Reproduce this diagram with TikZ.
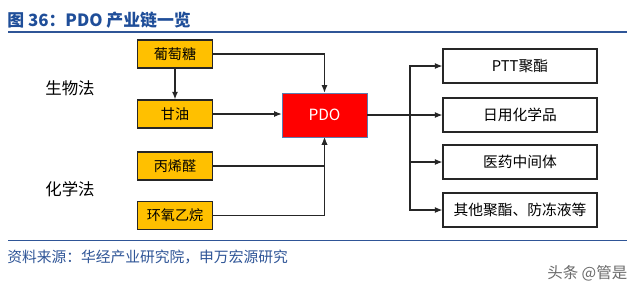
\documentclass[tikz,border=0pt]{standalone}
\usepackage{fontspec}
\setmainfont{Noto Sans CJK SC}
\usetikzlibrary{arrows.meta,positioning}
\definecolor{pdink}{HTML}{262626}
\definecolor{pdblue}{HTML}{1F4E99}
\definecolor{pdrule}{HTML}{2F5597}
\definecolor{pdgold}{HTML}{FFC000}
\definecolor{pdred}{HTML}{FF0000}
\definecolor{pdedge}{HTML}{5B7DB1}
\definecolor{pdgray}{HTML}{6B6B6B}
\tikzset{
  feed/.style={rectangle,draw=pdink,fill=pdgold,line width=.9pt,minimum width=1.875cm,minimum height=.7cm,inner sep=0pt,font=\fontsize{10}{12}\selectfont,text=black},
  prod/.style={rectangle,draw=pdedge,fill=pdred,line width=.4pt,minimum width=2.125cm,minimum height=1.1cm,inner sep=0pt,font=\fontsize{11}{13}\selectfont,text=white},
  use/.style={rectangle,draw=pdink,fill=white,line width=.8pt,minimum width=3.85cm,minimum height=.85cm,inner sep=0pt,font=\fontsize{10.5}{12}\selectfont,text=black},
  link/.style={draw=pdink,line width=.8pt},
  arr/.style={link,-{Latex[length=1.9mm,width=1.5mm]}},
  method/.style={font=\fontsize{11.7}{14}\selectfont,text=black},
  title/.style={font=\fontsize{12}{14}\selectfont\bfseries,text=pdblue},
  src/.style={font=\fontsize{10.5}{12}\selectfont,text=pdrule},
  rulebar/.style={draw=pdrule,line width=1pt},
}
\begin{document}
\begin{tikzpicture}[x=0.025cm,y=-0.025cm]
  \useasboundingbox[fill=white] (0,0) rectangle (640,292);
  \node[title,anchor=west,inner sep=0pt] (ttl) at (7,20) {图 36：PDO 产业链一览};
  \coordinate (topl) at (8,32);
  \coordinate (topr) at (627,32);
  \draw[rulebar] (topl) -- (topr);

  \node[method] (bio) at (70,88) {生物法};
  \node[method] (chem) at (70,189) {化学法};

  \node[feed] (glu) at (175,54) {葡萄糖};
  \node[feed] (gly) at (175,114) {甘油};
  \node[feed] (acr) at (175,166) {丙烯醛};
  \node[feed] (eo) at (175,215.5) {环氧乙烷};

  \node[prod] (pdo) at (324.5,115) {PDO};

  \node[use] (u1) at (520,66) {PTT聚酯};
  \node[use] (u2) at (520,115) {日用化学品};
  \node[use] (u3) at (520,162) {医药中间体};
  \node[use] (u4) at (520,210) {其他聚酯、防冻液等};

  \draw[arr] (glu) -- (gly);
  \draw[arr] (glu.east) -| (pdo.north);
  \draw[arr] (gly.east) -- (gly -| pdo.west);
  \draw[arr] (acr.east) -| (pdo.south);
  \draw[arr] (eo.east) -| (pdo.south);

  \coordinate (bus) at (410,115);
  \foreach \n in {u1,u2,u3,u4}
    \draw[arr] (pdo.east) -- (bus) |- (\n.west);

  \coordinate (botl) at (8,240.5);
  \coordinate (botr) at (627,240.5);
  \draw[rulebar] (botl) -- (botr);
  \node[src,anchor=west,inner sep=0pt] (note) at (7,257) {资料来源：华经产业研究院，申万宏源研究};
  \node[font=\fontsize{11}{13}\selectfont,text=pdgray,anchor=west,inner sep=0pt] (mark) at (547,273) {头条 @管是};
\end{tikzpicture}
\end{document}
